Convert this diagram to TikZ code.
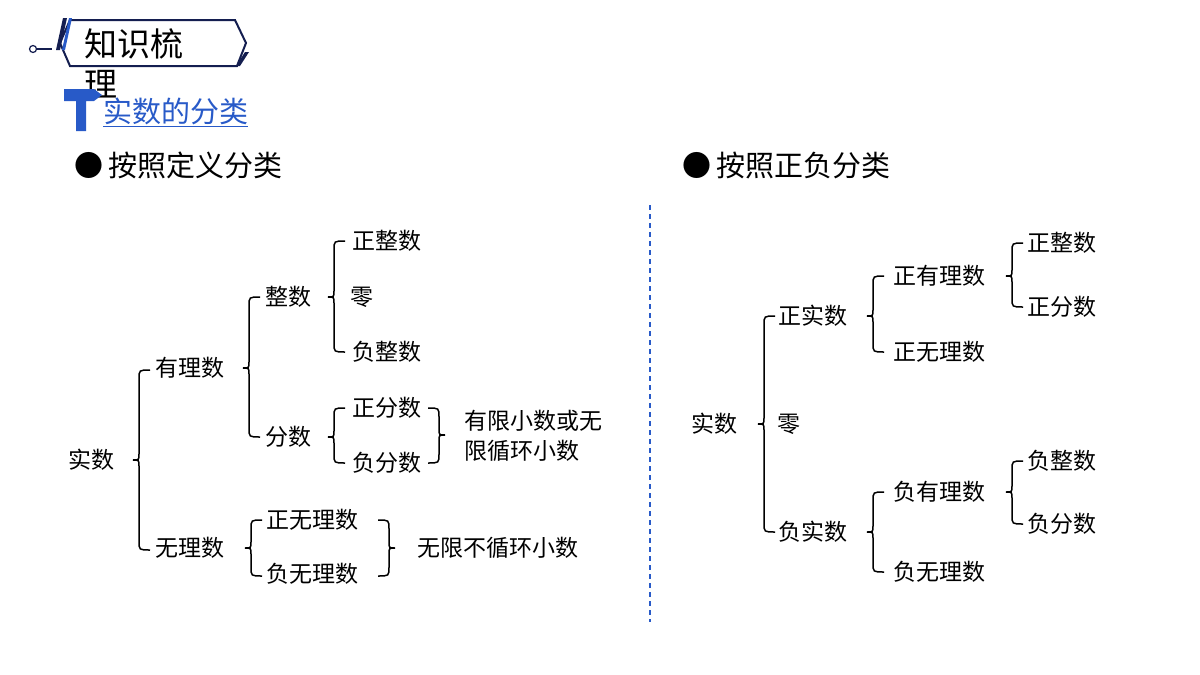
\documentclass[tikz,border=0pt]{standalone}
\usepackage{fontspec}
\setmainfont{Noto Sans CJK SC}
\definecolor{navy}{RGB}{20, 30, 80}
\definecolor{linkblue}{RGB}{40, 90, 200}
\tikzset{
  lbl/.style={inner sep=0pt, font=\fontsize{23}{23}\selectfont},
  lft/.style={lbl, anchor=west},
  brc/.style={line width=1.5pt},
}
% left brace: x, top, bottom, tip
\newcommand\lbrc[4]{\draw[brc] (#1+11,#2) .. controls (#1,#2) .. (#1,#2+9) -- (#1,#4-6) .. controls (#1,#4) .. (#1-6,#4) .. controls (#1,#4) .. (#1,#4+6) -- (#1,#3-9) .. controls (#1,#3) .. (#1+11,#3);}
% right brace
\newcommand\rbrc[4]{\draw[brc] (#1-11,#2) .. controls (#1,#2) .. (#1,#2+9) -- (#1,#4-6) .. controls (#1,#4) .. (#1+6,#4) .. controls (#1,#4) .. (#1,#4+6) -- (#1,#3-9) .. controls (#1,#3) .. (#1-11,#3);}
\begin{document}
\begin{tikzpicture}[x=1pt,y=-1pt]
	\useasboundingbox (0,0) rectangle (1200,675);
	% header
	\draw[navy, line width=2pt, fill=white] (60,43)--(70,20)--(235,20)--(246,43)--(237,66)--(70,66)--cycle;
	\fill[navy] (56,50)--(63,18)--(67,18)--(60,50)--cycle;
	\fill[linkblue] (62,50)--(69,18)--(72,18)--(65,50)--cycle;
	\fill[navy] (236,66)--(245,52)--(249,52)--(240,66)--cycle;
	\draw[navy, line width=1.5pt] (36,49)--(52,49);
	\draw[navy, line width=1.2pt, fill=white] (33,49) circle (3.5);
	\node (head1) [lft, font=\fontsize{33}{33}\selectfont] at (84,44) {知识梳};
	\node (head2) [lft, font=\fontsize{33}{33}\selectfont] at (84,84) {理};
	\fill[linkblue] (64,89)--(94,89)--(102,95)--(94,101)--(86,101)--(86,131)--(76,131)--(76,101)--(64,101)--cycle;
	\node (link) [lft, text=linkblue, font=\fontsize{29}{29}\selectfont] at (103,112) {\underline{实数的分类}};
	% section titles
	\node (b1) [lft, font=\fontsize{29}{29}\selectfont] at (74,165) {●\,按照定义分类};
	\node (b2) [lft, font=\fontsize{29}{29}\selectfont] at (682,165) {●\,按照正负分类};
	\draw[linkblue, line width=1.2pt, dash pattern=on 5pt off 4pt] (650,205)--(650,622);
	% left tree
	\node (real) [lbl] at (91,460) {实数};
	\node (rat) [lbl] at (190,368) {有理数};
	\node (irr) [lbl] at (190,548) {无理数};
	\node (int) [lbl] at (288,297) {整数};
	\node (frac) [lbl] at (288,437) {分数};
	\node (pint) [lbl] at (387,241) {正整数};
	\node (zero) [lbl] at (362,297) {零};
	\node (nint) [lbl] at (387,352) {负整数};
	\node (pfrac) [lbl] at (387,408) {正分数};
	\node (nfrac) [lbl] at (387,463) {负分数};
	\node (fin) [lft] at (464,421) {有限小数或无};
	\node (fin2) [lft] at (464,451) {限循环小数};
	\node (pirr) [lbl] at (312,520) {正无理数};
	\node (nirr) [lbl] at (312,574) {负无理数};
	\node (inf) [lbl] at (498,548) {无限不循环小数};
	\lbrc{139}{370}{550}{460}
	\lbrc{249}{297}{437}{368}
	\lbrc{334}{241}{352}{297}
	\lbrc{334}{408}{463}{437}
	\rbrc{439}{408}{463}{435}
	\lbrc{251}{520}{576}{548}
	\rbrc{389}{520}{576}{548}
	% right tree
	\node (realR) [lbl] at (714,424) {实数};
	\node (zeroR) [lbl] at (789,424) {零};
	\node (pos) [lbl] at (813,316) {正实数};
	\node (neg) [lbl] at (813,532) {负实数};
	\node (prat) [lbl] at (939,276) {正有理数};
	\node (pirrR) [lbl] at (939,352) {正无理数};
	\node (nrat) [lbl] at (939,492) {负有理数};
	\node (nirrR) [lbl] at (939,572) {负无理数};
	\node (pintR) [lbl] at (1062,243) {正整数};
	\node (pfracR) [lbl] at (1062,307) {正分数};
	\node (nintR) [lbl] at (1062,461) {负整数};
	\node (nfracR) [lbl] at (1062,524) {负分数};
	\lbrc{764}{316}{532}{424}
	\lbrc{873}{276}{352}{316}
	\lbrc{873}{492}{572}{532}
	\lbrc{1012}{243}{307}{276}
	\lbrc{1012}{461}{524}{492}
\end{tikzpicture}
\end{document}
